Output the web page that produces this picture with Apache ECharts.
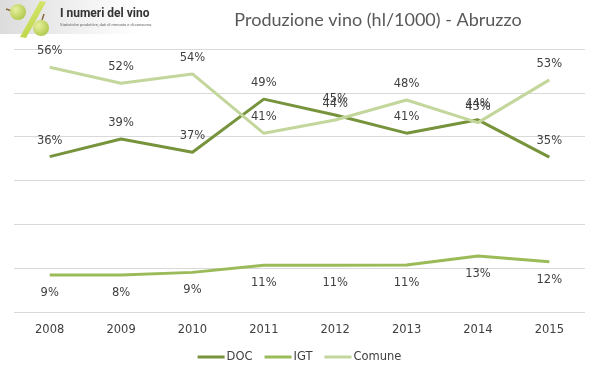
<!DOCTYPE html>
<html>
<head>
<meta charset="utf-8">
<script src="https://cdn.jsdelivr.net/npm/echarts@6/dist/echarts.min.js"></script>
<style>html,body{margin:0;padding:0;background:#fff}#c{width:599px;height:378px}</style>
</head>
<body>
<div id="c"></div>
<script>
var years = ['2008','2009','2010','2011','2012','2013','2014','2015'];
var docValues = [886, 987, 911, 1214, 1124, 1020, 1096, 883];
var igtValues = [211, 211, 226, 266, 266, 268, 319, 287];
var comuneValues = [1396, 1305, 1358, 1019, 1095, 1209, 1080, 1324];
var docShare = ['36%','39%','37%','49%','45%','41%','44%','35%'];
var igtShare = ['9%','8%','9%','11%','11%','11%','13%','12%'];
var comuneShare = ['56%','52%','54%','41%','44%','48%','43%','53%'];

var chart = echarts.init(document.getElementById('c'), null, {renderer:'canvas'});
function mk(name, vals, shares, color, pos){
  return {
    name:name, type:'line', data:vals, symbol:'circle', symbolSize:0, showSymbol:true, smooth:false,
    lineStyle:{color:color, width:3}, itemStyle:{color:color},
    label:{show:true, position:pos, distance:pos==='top'?10:12,
      formatter:function(p){return shares[p.dataIndex];},
      fontFamily:'DejaVu Sans', fontSize:11.5, color:'#404040'},
    labelLayout:{hideOverlap:false},
    emphasis:{disabled:true}, animation:false
  };
}
chart.setOption({
  animation:false,
  title:{text:'Produzione vino (hl/1000) - Abruzzo', left:373, top:6, textAlign:'center',
    textStyle:{fontFamily:'Lato', fontSize:18, fontWeight:'normal', color:'#595959'}},
  legend:{bottom:10, left:'center', itemWidth:27, itemHeight:3, itemGap:12,
    icon:'rect',
    textStyle:{fontFamily:'DejaVu Sans', fontSize:11.5, color:'#404040', padding:[0,0,0,-3]},
    data:['DOC','IGT','Comune']},
  grid:{left:14, right:14, top:49, bottom:66, containLabel:false},
  xAxis:{type:'category', data:years, boundaryGap:true,
    axisLine:{show:false}, axisTick:{show:false},
    axisLabel:{margin:12, fontFamily:'DejaVu Sans', fontSize:11.5, color:'#404040'}},
  yAxis:{type:'value', min:0, max:1500, interval:250,
    axisLabel:{show:false}, axisLine:{show:false}, axisTick:{show:false},
    splitLine:{lineStyle:{color:'#d9d9d9', width:1}}},
  series:[
    mk('DOC', docValues, docShare, '#77933c', 'top'),
    mk('IGT', igtValues, igtShare, '#9bbb59', 'bottom'),
    mk('Comune', comuneValues, comuneShare, '#c3d69b', 'top')
  ],
  graphic:[
    {type:'rect', shape:{x:0,y:0,width:140,height:34}, silent:true, z:-1,
      style:{fill:new echarts.graphic.LinearGradient(0,0,1,0,[{offset:0,color:'#dcdcdc'},{offset:0.6,color:'#f2f2f2'},{offset:1,color:'#ffffff'}])}},
    {type:'polygon', shape:{points:[[40,1],[46,2],[26,38],[20,37]]}, silent:true,
      style:{fill:new echarts.graphic.LinearGradient(0,0,1,1,[{offset:0,color:'#e0ec7a'},{offset:1,color:'#b5cf3c'}])}},
    {type:'line', shape:{x1:6,y1:9,x2:12,y2:11}, silent:true, style:{stroke:'#8a6a3a', lineWidth:1.5}},
    {type:'circle', shape:{cx:18, cy:12, r:8}, silent:true,
      style:{fill:new echarts.graphic.RadialGradient(0.35,0.35,0.8,[{offset:0,color:'#e8f0a0'},{offset:1,color:'#a8c440'}])}},
    {type:'line', shape:{x1:44,y1:14,x2:42,y2:20}, silent:true, style:{stroke:'#8a6a3a', lineWidth:1.5}},
    {type:'circle', shape:{cx:41, cy:28, r:8}, silent:true,
      style:{fill:new echarts.graphic.RadialGradient(0.35,0.35,0.8,[{offset:0,color:'#e8f0a0'},{offset:1,color:'#a8c440'}])}},
    {type:'text', left:60, top:8, silent:true,
      style:{text:'I numeri del vino', fontFamily:'Roboto', fontSize:12, fontWeight:'bold', fill:'#333'}},
    {type:'text', left:60, top:23, silent:true,
      style:{text:'Statistiche produttive, dati di mercato e di consumo.', fontFamily:'Roboto', fontSize:4, fill:'#666'}}
  ]
});
</script>
</body>
</html>
